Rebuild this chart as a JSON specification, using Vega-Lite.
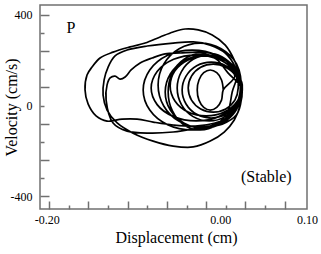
{
  "$schema": "https://vega.github.io/schema/vega-lite/v6.json",
  "autosize": {"type": "none"},
  "padding": {"left": 40, "top": 5, "right": 14, "bottom": 45},
  "width": 267,
  "height": 204,
  "config": {
    "view": {"stroke": "#707070", "strokeWidth": 1.5},
    "axis": {"grid": false, "domain": false}
  },
  "datasets": {
    "traj": [
      {"t":1,"x":0.0242,"y":69},{"t":2,"x":0.0208,"y":-2},{"t":3,"x":0.0115,"y":-51},{"t":4,"x":-0.0058,"y":-77},{"t":5,"x":-0.0288,"y":-91},{"t":6,"x":-0.0542,"y":-86},{"t":7,"x":-0.0773,"y":-73},{"t":8,"x":-0.0958,"y":-60},{"t":9,"x":-0.1131,"y":-60},{"t":10,"x":-0.1304,"y":-69},{"t":11,"x":-0.1431,"y":-46},{"t":12,"x":-0.1523,"y":7},{"t":13,"x":-0.1558,"y":69},{"t":14,"x":-0.1535,"y":135},{"t":15,"x":-0.1477,"y":170},{"t":16,"x":-0.1385,"y":210},{"t":17,"x":-0.1235,"y":236},{"t":18,"x":-0.1038,"y":259},{"t":19,"x":-0.0865,"y":276},{"t":20,"x":-0.0692,"y":303},{"t":21,"x":-0.0542,"y":325},{"t":22,"x":-0.0404,"y":338},{"t":23,"x":-0.0254,"y":334},{"t":24,"x":-0.0092,"y":312},{"t":25,"x":0.0058,"y":267},{"t":26,"x":0.0162,"y":201},{"t":27,"x":0.0219,"y":135},{"t":28,"x":0.0254,"y":69},
      {"t":29,"x":0.0231,"y":2},{"t":30,"x":0.0162,"y":-64},{"t":31,"x":0.0046,"y":-117},{"t":32,"x":-0.0115,"y":-157},{"t":33,"x":-0.0312,"y":-183},{"t":34,"x":-0.0542,"y":-179},{"t":35,"x":-0.0773,"y":-157},{"t":36,"x":-0.1004,"y":-122},{"t":37,"x":-0.1188,"y":-77},{"t":38,"x":-0.1304,"y":-20},{"t":39,"x":-0.135,"y":46},{"t":40,"x":-0.1338,"y":113},{"t":41,"x":-0.1292,"y":170},{"t":42,"x":-0.1212,"y":219},{"t":43,"x":-0.1073,"y":245},{"t":44,"x":-0.0842,"y":263},{"t":45,"x":-0.0542,"y":276},{"t":46,"x":-0.0312,"y":281},{"t":47,"x":-0.0115,"y":267},{"t":48,"x":0.0058,"y":232},{"t":49,"x":0.0173,"y":170},{"t":50,"x":0.0231,"y":91},
      {"t":51,"x":0.0242,"y":24},{"t":52,"x":0.0185,"y":-42},{"t":53,"x":0.0023,"y":-82},{"t":54,"x":-0.0231,"y":-99},{"t":55,"x":-0.0542,"y":-117},{"t":56,"x":-0.0808,"y":-122},{"t":57,"x":-0.1073,"y":-113},{"t":58,"x":-0.1235,"y":-77},{"t":59,"x":-0.1315,"y":24},{"t":60,"x":-0.1304,"y":91},{"t":61,"x":-0.1269,"y":122},{"t":62,"x":-0.1212,"y":130},{"t":63,"x":-0.1154,"y":117},{"t":64,"x":-0.1096,"y":126},{"t":65,"x":-0.1027,"y":157},{"t":66,"x":-0.0923,"y":188},{"t":67,"x":-0.0785,"y":210},{"t":68,"x":-0.0635,"y":228},{"t":69,"x":-0.0462,"y":232},{"t":70,"x":-0.0231,"y":236},{"t":71,"x":-0.0023,"y":223},{"t":72,"x":0.0127,"y":183},{"t":73,"x":0.0219,"y":122},{"t":74,"x":0.0254,"y":60},
      {"t":75,"x":0.0242,"y":69},{"t":76,"x":0.0166,"y":-20},{"t":77,"x":-0.004,"y":-85},{"t":78,"x":-0.0323,"y":-108},{"t":79,"x":-0.0606,"y":-85},{"t":80,"x":-0.0812,"y":-20},{"t":81,"x":-0.0888,"y":69},{"t":82,"x":-0.0812,"y":157},{"t":83,"x":-0.0606,"y":222},{"t":84,"x":-0.0323,"y":245},{"t":85,"x":-0.004,"y":222},{"t":86,"x":0.0166,"y":157},
      {"t":87,"x":0.0242,"y":77},{"t":88,"x":0.0173,"y":4},{"t":89,"x":-0.0017,"y":-49},{"t":90,"x":-0.0277,"y":-68},{"t":91,"x":-0.0537,"y":-49},{"t":92,"x":-0.0727,"y":4},{"t":93,"x":-0.0796,"y":77},{"t":94,"x":-0.0727,"y":150},{"t":95,"x":-0.0537,"y":204},{"t":96,"x":-0.0277,"y":223},{"t":97,"x":-0.0017,"y":204},{"t":98,"x":0.0173,"y":150},
      {"t":99,"x":0.0254,"y":91},{"t":100,"x":0.0189,"y":-2},{"t":101,"x":0.0011,"y":-70},{"t":102,"x":-0.0231,"y":-95},{"t":103,"x":-0.0473,"y":-70},{"t":104,"x":-0.0651,"y":-2},{"t":105,"x":-0.0716,"y":91},{"t":106,"x":-0.0651,"y":183},{"t":107,"x":-0.0473,"y":251},{"t":108,"x":-0.0231,"y":276},{"t":109,"x":0.0011,"y":251},{"t":110,"x":0.0189,"y":183},
      {"t":111,"x":0.0242,"y":60},{"t":112,"x":0.0183,"y":-20},{"t":113,"x":0.0023,"y":-78},{"t":114,"x":-0.0196,"y":-99},{"t":115,"x":-0.0415,"y":-78},{"t":116,"x":-0.0575,"y":-20},{"t":117,"x":-0.0634,"y":60},{"t":118,"x":-0.0575,"y":139},{"t":119,"x":-0.0415,"y":198},{"t":120,"x":-0.0196,"y":219},{"t":121,"x":0.0023,"y":198},{"t":122,"x":0.0183,"y":139},
      {"t":123,"x":0.0253,"y":86},{"t":124,"x":0.0198,"y":20},{"t":125,"x":0.0046,"y":-29},{"t":126,"x":-0.0162,"y":-46},{"t":127,"x":-0.037,"y":-29},{"t":128,"x":-0.0522,"y":20},{"t":129,"x":-0.0577,"y":86},{"t":130,"x":-0.0522,"y":153},{"t":131,"x":-0.037,"y":201},{"t":132,"x":-0.0162,"y":219},{"t":133,"x":0.0046,"y":201},{"t":134,"x":0.0198,"y":153},
      {"t":135,"x":0.0138,"y":60},{"t":136,"x":0.0089,"y":-24},{"t":137,"x":-0.0046,"y":-86},{"t":138,"x":-0.0231,"y":-108},{"t":139,"x":-0.0416,"y":-86},{"t":140,"x":-0.0551,"y":-24},{"t":141,"x":-0.06,"y":60},{"t":142,"x":-0.0551,"y":144},{"t":143,"x":-0.0416,"y":205},{"t":144,"x":-0.0231,"y":228},{"t":145,"x":-0.0046,"y":205},{"t":146,"x":0.0089,"y":144},
      {"t":147,"x":0.0242,"y":77},{"t":148,"x":0.0193,"y":4},{"t":149,"x":0.0058,"y":-49},{"t":150,"x":-0.0127,"y":-68},{"t":151,"x":-0.0312,"y":-49},{"t":152,"x":-0.0447,"y":4},{"t":153,"x":-0.0496,"y":77},{"t":154,"x":-0.0447,"y":150},{"t":155,"x":-0.0312,"y":204},{"t":156,"x":-0.0127,"y":223},{"t":157,"x":0.0058,"y":204},{"t":158,"x":0.0193,"y":150},
      {"t":159,"x":0.0231,"y":69},{"t":160,"x":0.0186,"y":7},{"t":161,"x":0.0063,"y":-39},{"t":162,"x":-0.0104,"y":-55},{"t":163,"x":-0.0271,"y":-39},{"t":164,"x":-0.0394,"y":7},{"t":165,"x":-0.0439,"y":69},{"t":166,"x":-0.0394,"y":130},{"t":167,"x":-0.0271,"y":176},{"t":168,"x":-0.0104,"y":192},{"t":169,"x":0.0063,"y":176},{"t":170,"x":0.0186,"y":130},
      {"t":171,"x":0.0207,"y":77},{"t":172,"x":0.0169,"y":24},{"t":173,"x":0.0063,"y":-15},{"t":174,"x":-0.0081,"y":-29},{"t":175,"x":-0.0225,"y":-15},{"t":176,"x":-0.0331,"y":24},{"t":177,"x":-0.0369,"y":77},{"t":178,"x":-0.0331,"y":130},{"t":179,"x":-0.0225,"y":169},{"t":180,"x":-0.0081,"y":183},{"t":181,"x":0.0063,"y":169},{"t":182,"x":0.0169,"y":130},
      {"t":183,"x":0.0035,"y":69},{"t":184,"x":0.0015,"y":24},{"t":185,"x":-0.004,"y":-8},{"t":186,"x":-0.0115,"y":-20},{"t":187,"x":-0.019,"y":-8},{"t":188,"x":-0.0245,"y":24},{"t":189,"x":-0.0265,"y":69},{"t":190,"x":-0.0245,"y":113},{"t":191,"x":-0.019,"y":145},{"t":192,"x":-0.0115,"y":157},{"t":193,"x":-0.004,"y":145},{"t":194,"x":0.0015,"y":113},{"t":195,"x":0.0035,"y":69}
    ],
    "notes": [
      {"label": "P", "x": -0.1719, "y": 320},
      {"label": "(Stable)", "x": 0.0531, "y": -338}
    ]
  },
  "layer": [
    {
      "data": {"name": "traj"},
      "mark": {"type": "line", "interpolate": "catmull-rom", "color": "black", "strokeWidth": 1.7, "clip": true},
      "encoding": {
        "order": {"field": "t", "type": "quantitative"},
        "x": {
          "field": "x", "type": "quantitative",
          "scale": {"domain": [-0.2077, 0.1], "nice": false, "zero": false},
          "axis": {
            "orient": "bottom", "title": null, "labels": false,
            "values": [-0.1973, -0.1747, -0.152, -0.1294, -0.1067, -0.0841, -0.0614, -0.0388, -0.0162, 0.0065, 0.0291, 0.0518, 0.0744],
            "tickColor": "#707070", "tickWidth": 1.5,
            "tickSize": {"condition": {"test": "abs((datum.value+0.1973)/0.04529 - round((datum.value+0.1973)/0.04529)) < 0.2", "value": -8}, "value": -4}
          }
        },
        "y": {
          "field": "y", "type": "quantitative",
          "scale": {"domain": [-457, 444], "nice": false, "zero": false},
          "axis": {
            "orient": "left", "title": null, "labels": false,
            "values": [-400, -320, -240, -160, -80, 0, 80, 160, 240, 320, 400],
            "tickColor": "#707070", "tickWidth": 1.5,
            "tickSize": {"condition": {"test": "abs(datum.value) % 160 == 80", "value": -9}, "value": -4}
          }
        }
      }
    },
    {
      "data": {"name": "notes"},
      "mark": {"type": "text", "font": "Liberation Serif", "fontSize": 16, "color": "black", "align": "center", "baseline": "alphabetic"},
      "encoding": {
        "text": {"field": "label"},
        "x": {
          "field": "x", "type": "quantitative",
          "scale": {"domain": [-0.2077, 0.1], "nice": false, "zero": false},
          "axis": {
            "orient": "bottom", "values": [-0.2, 0, 0.1], "ticks": false,
            "labelExpr": "datum.value < -0.1 ? '-0.20' : (datum.value > 0.05 ? '0.10' : '0.00')",
            "labelFont": "Liberation Serif", "labelFontSize": 12, "labelColor": "black",
            "labelPadding": 5, "labelFlush": false, "labelOverlap": false,
            "title": "Displacement (cm)", "titleFont": "Liberation Serif", "titleFontSize": 16,
            "titleFontWeight": "normal", "titleColor": "black",
            "titleBaseline": "alphabetic", "titleX": 136, "titleY": 33, "titleAlign": "center"
          }
        },
        "y": {
          "field": "y", "type": "quantitative",
          "scale": {"domain": [-457, 444], "nice": false, "zero": false},
          "axis": {
            "orient": "left", "values": [-400, 0, 400], "ticks": false,
            "labelExpr": "datum.value < 0 ? '-400' : (datum.value > 0 ? '400' : '0')",
            "labelFont": "Liberation Serif", "labelFontSize": 12, "labelColor": "black",
            "labelPadding": 8, "labelFlush": false, "labelOverlap": false,
            "title": "Velocity (cm/s)", "titleFont": "Liberation Serif", "titleFontSize": 16,
            "titleFontWeight": "normal", "titleColor": "black",
            "titleBaseline": "alphabetic", "titleX": -24, "titleY": 102, "titleAlign": "center", "titleAngle": -90
          }
        }
      }
    }
  ],
  "resolve": {"axis": {"x": "independent", "y": "independent"}}
}
